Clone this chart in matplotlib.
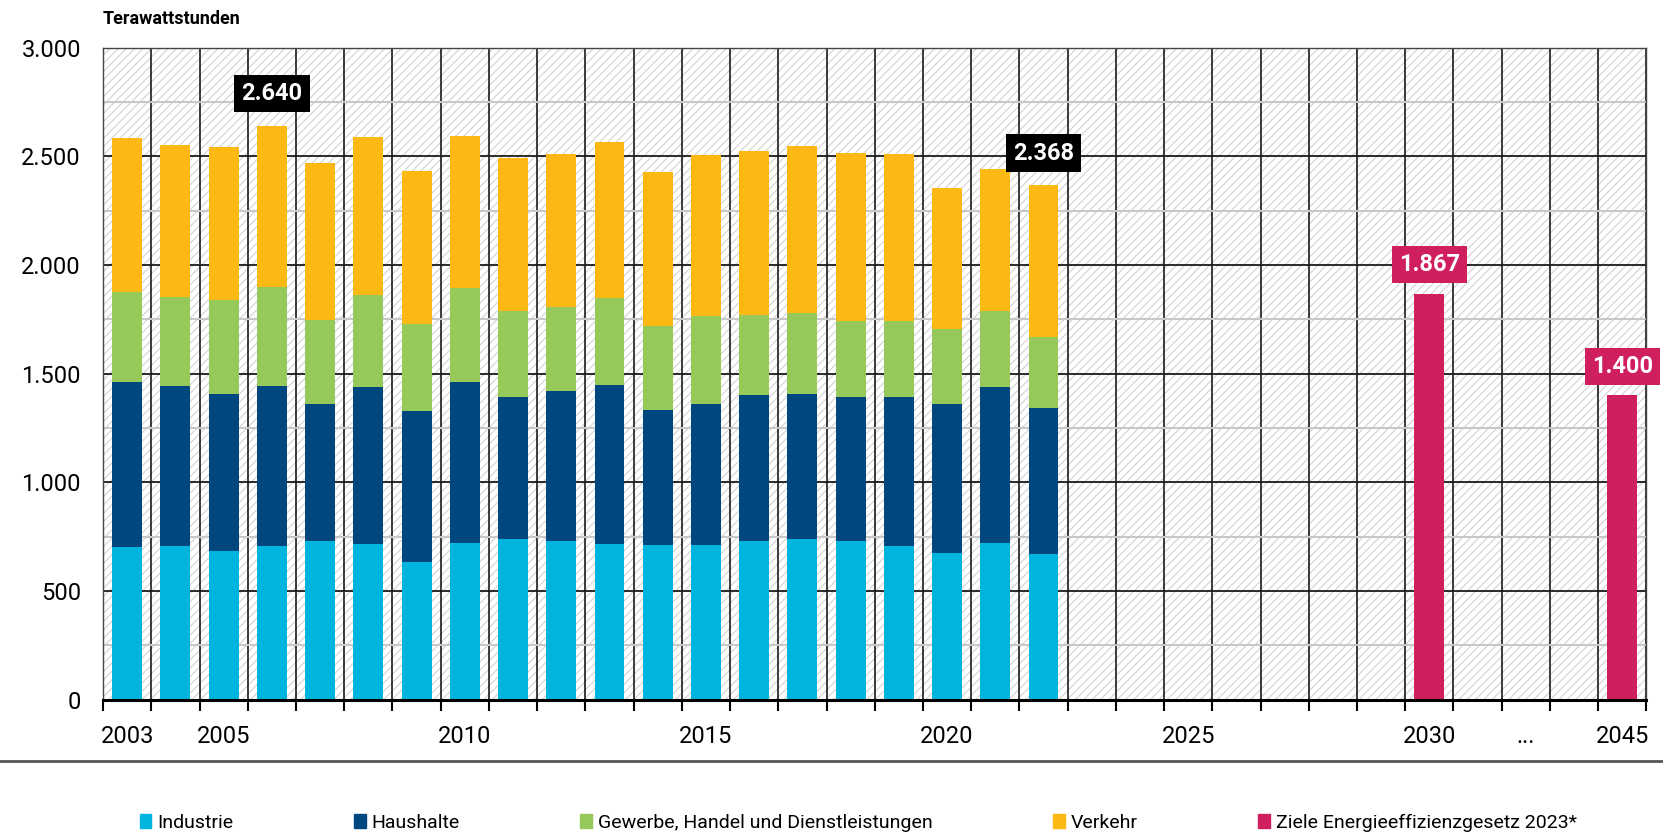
import matplotlib
matplotlib.use('Agg')
import matplotlib.pyplot as plt
from matplotlib.patches import Rectangle, Patch
from matplotlib.lines import Line2D
from matplotlib.ticker import MultipleLocator, FuncFormatter
import numpy as np

plt.rcParams['font.family'] = ['Roboto', 'DejaVu Sans']
plt.rcParams['hatch.linewidth'] = 0.8

# Endenergieverbrauch nach Sektoren, TWh
years = [str(y) for y in range(2003, 2023)]
industrie = [702, 709, 686, 705, 732, 716, 635, 723, 740, 728,
             718, 711, 714, 732, 739, 732, 705, 677, 723, 670]
haushalte = [761, 733, 719, 737, 629, 721, 691, 737, 651, 691,
             728, 624, 647, 668, 666, 661, 688, 684, 714, 672]
gewerbe = [411, 411, 436, 455, 388, 423, 402, 435, 399, 388,
           402, 384, 406, 372, 374, 349, 349, 346, 353, 326]
verkehr = [709, 700, 701, 743, 719, 728, 703, 697, 701, 704,
           717, 709, 737, 753, 767, 774, 770, 647, 650, 700]

target_years = ['2030', '2045']
targets = [1867, 1400]

highlight_years = ['2006', '2022']

# x slots: every year up to 2030, then a gap, the ellipsis and 2045
slots = [str(y) for y in range(2003, 2031)] + [' ', '...', '  ', '2045']
tick_labels = ['2003', '2005', '2010', '2015', '2020', '2025', '2030', '...', '2045']

sector_names = ['Industrie', 'Haushalte', 'Gewerbe, Handel und Dienstleistungen', 'Verkehr']
sector_colors = ['#00b5dd', '#00477f', '#97c95a', '#fdb913']
target_name = 'Ziele Energieeffizienzgesetz 2023*'
target_color = '#cf1f5f'


def de_thousands(v, pos=None):
    return '{:,.0f}'.format(v).replace(',', '.')


fig = plt.figure(figsize=(16.63, 8.35), dpi=100)
ax = fig.add_axes([0.062, 0.162, 0.928, 0.781])

# hatched background
ax.add_patch(Rectangle((0, 0), 1, 1, transform=ax.transAxes, facecolor='white',
                       edgecolor='#d2d2d2', hatch='////', linewidth=0, zorder=0.1))

x = np.array([slots.index(y) for y in years])
bottom = np.zeros(len(years))
for vals, col in zip([industrie, haushalte, gewerbe, verkehr], sector_colors):
    ax.bar(x, vals, 0.62, bottom=bottom, color=col, zorder=3)
    bottom += np.array(vals)

for y in highlight_years:
    i = years.index(y)
    ax.annotate(de_thousands(bottom[i]), (x[i], bottom[i]), xytext=(0, 23),
                textcoords='offset points', ha='center', va='center',
                color='white', fontsize=17, fontweight='bold', zorder=5,
                bbox=dict(boxstyle='square,pad=0.3', facecolor='black', edgecolor='none'))

xt = np.array([slots.index(y) for y in target_years])
ax.bar(xt, targets, 0.62, color=target_color, zorder=3)
for xi, v in zip(xt, targets):
    ax.annotate(de_thousands(v), (xi, v), xytext=(0, 21),
                textcoords='offset points', ha='center', va='center',
                color='white', fontsize=17, fontweight='bold', zorder=5,
                bbox=dict(boxstyle='square,pad=0.3', facecolor=target_color, edgecolor='none'))

ax.set_xlim(-0.5, len(slots) - 0.5)
ax.set_ylim(0, 3000)
ax.set_axisbelow(True)

ax.yaxis.set_major_locator(MultipleLocator(500))
ax.yaxis.set_minor_locator(MultipleLocator(250))
ax.yaxis.set_major_formatter(FuncFormatter(de_thousands))
ax.grid(axis='y', which='major', color='#1a1a1a', lw=1.3)
ax.grid(axis='y', which='minor', color='#c8c8c8', lw=1.5)
ax.tick_params(axis='y', which='both', length=0, pad=16, labelsize=17)

ax.set_xticks(np.arange(-0.5, len(slots)))
ax.set_xticklabels([])
ax.set_xticks([slots.index(t) for t in tick_labels], minor=True)
ax.set_xticklabels(tick_labels, minor=True)
ax.grid(axis='x', which='major', color='#1a1a1a', lw=1.2)
ax.tick_params(axis='x', which='major', length=8, width=1.5, color='black')
ax.tick_params(axis='x', which='minor', length=0, pad=18, labelsize=17)

for side in ['left', 'right', 'top']:
    ax.spines[side].set_color('#444444')
    ax.spines[side].set_linewidth(1.0)
ax.spines['bottom'].set_linewidth(2.2)
ax.spines['bottom'].set_zorder(4)

fig.text(0.062, 0.977, 'Terawattstunden', fontweight='bold', fontsize=13, va='center')

fig.add_artist(Line2D([0, 1], [0.0886, 0.0886], transform=fig.transFigure,
                      color='#555555', lw=2))

handles = [Patch(color=c) for c in sector_colors + [target_color]]
fig.legend(handles, sector_names + [target_name], loc='center',
           bbox_to_anchor=(0.516, 0.015), ncol=5, frameon=False, fontsize=14,
           handlelength=0.6, handleheight=0.7, handletextpad=0.3, columnspacing=6.2)

fig.savefig('out.png', dpi=100)
